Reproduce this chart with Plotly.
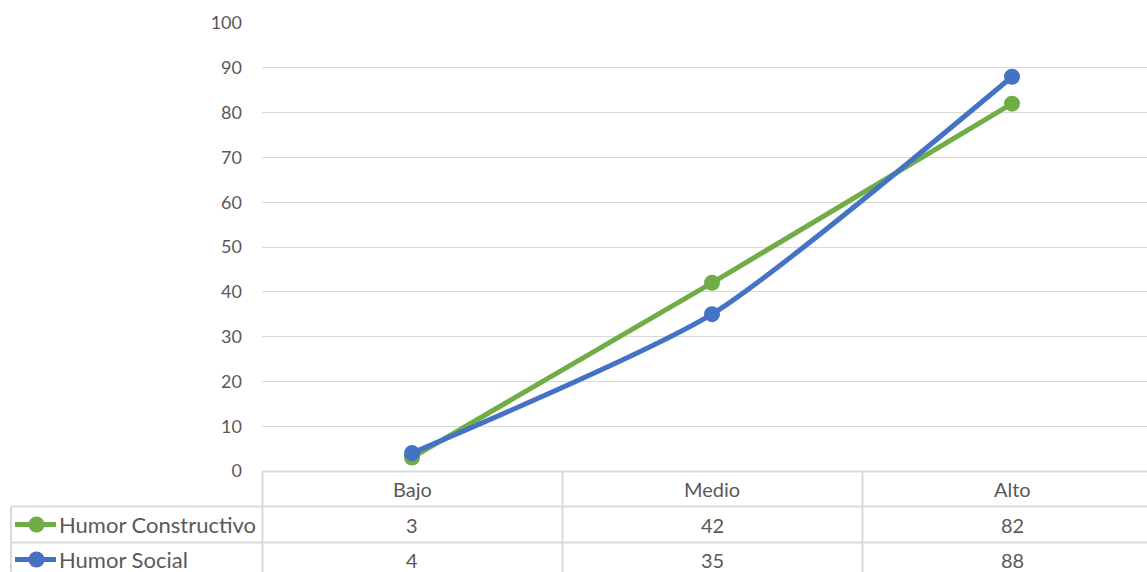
import plotly.graph_objects as go

categories = ["Bajo", "Medio", "Alto"]
series_names = ["Humor Constructivo", "Humor Social"]
humor_constructivo = [3, 42, 82]
humor_social = [4, 35, 88]
y_ticks = [0, 10, 20, 30, 40, 50, 60, 70, 80, 90, 100]

GREEN = "#70AD47"
BLUE = "#4472C4"
GRID = "#D9D9D9"
TEXT = "#595959"
FONT = "Lato"

W, H = 1147, 572
L, T = 262, 23
B = H - 471
PW = W - L
PH = H - T - B


def px_x(p):
    return (p - L) / PW


def px_y(p):
    return (471 - p) / PH


fig = go.Figure()
fig.add_trace(go.Scatter(x=categories, y=humor_constructivo, name=series_names[0],
                         mode="lines+markers", line=dict(color=GREEN, width=5),
                         marker=dict(size=16, color=GREEN)))
fig.add_trace(go.Scatter(x=categories, y=humor_social, name=series_names[1],
                         mode="lines+markers", line=dict(color=BLUE, width=5, shape="spline", smoothing=0.6),
                         marker=dict(size=16, color=BLUE)))

shapes = []
line_style = dict(color=GRID, width=2)
y_top = px_y(471.5)
y_r1 = px_y(506.5)
y_r2 = px_y(542.5)
y_bot = px_y(590)
shapes.append(dict(type="line", xref="paper", yref="paper", x0=0, x1=1, y0=y_top, y1=y_top, line=line_style))
for yy in (y_r1, y_r2):
    shapes.append(dict(type="line", xref="paper", yref="paper", x0=px_x(11), x1=1, y0=yy, y1=yy, line=line_style))
shapes.append(dict(type="line", xref="paper", yref="paper", x0=px_x(11), x1=px_x(11), y0=y_r1, y1=y_bot, line=line_style))
for xp in (262.5, 562.5, 862.5):
    shapes.append(dict(type="line", xref="paper", yref="paper", x0=px_x(xp), x1=px_x(xp), y0=y_top, y1=y_bot, line=line_style))

annotations = []
rows = [humor_constructivo, humor_social]
colors = [GREEN, BLUE]
row_centers = [524.5, 559.5]
for i, cat in enumerate(categories):
    annotations.append(dict(x=i, y=px_y(489), xref="x", yref="paper", text=cat, showarrow=False,
                            xanchor="center", yanchor="middle",
                            font=dict(family=FONT, size=20, color=TEXT)))
for r, vals in enumerate(rows):
    yc = px_y(row_centers[r])
    for i, v in enumerate(vals):
        annotations.append(dict(x=i, y=yc, xref="x", yref="paper", text=str(v), showarrow=False,
                                xanchor="center", yanchor="middle",
                                font=dict(family=FONT, size=20, color=TEXT)))
    shapes.append(dict(type="line", xref="paper", yref="paper", x0=px_x(15), x1=px_x(56), y0=yc, y1=yc,
                       line=dict(color=colors[r], width=5)))
    shapes.append(dict(type="circle", xref="paper", yref="paper", x0=px_x(28.5), x1=px_x(44.5),
                       y0=yc - 8 / PH, y1=yc + 8 / PH, fillcolor=colors[r], line=dict(width=0)))
    annotations.append(dict(x=px_x(57), y=yc, xref="paper", yref="paper", text=series_names[r],
                            xanchor="left", yanchor="middle", showarrow=False,
                            font=dict(family=FONT, size=22, color=TEXT)))

fig.update_layout(
    width=W, height=H,
    margin=dict(l=L, r=0, t=T, b=B),
    paper_bgcolor="white", plot_bgcolor="white",
    showlegend=False,
    xaxis=dict(type="category", range=[-0.5, 2.45], showticklabels=False, showgrid=False,
               zeroline=False, showline=False, ticks=""),
    yaxis=dict(range=[0, 100], tickvals=y_ticks, showgrid=True, gridcolor=GRID, gridwidth=1,
               zeroline=False, showline=False, ticks="", ticklabelstandoff=19,
               tickfont=dict(family=FONT, size=18, color=TEXT)),
    shapes=shapes, annotations=annotations,
)

fig.write_html(
    "out.html",
    config={"displayModeBar": False},
    post_script="document.body.style.margin='0';document.body.style.overflow='hidden';",
)
